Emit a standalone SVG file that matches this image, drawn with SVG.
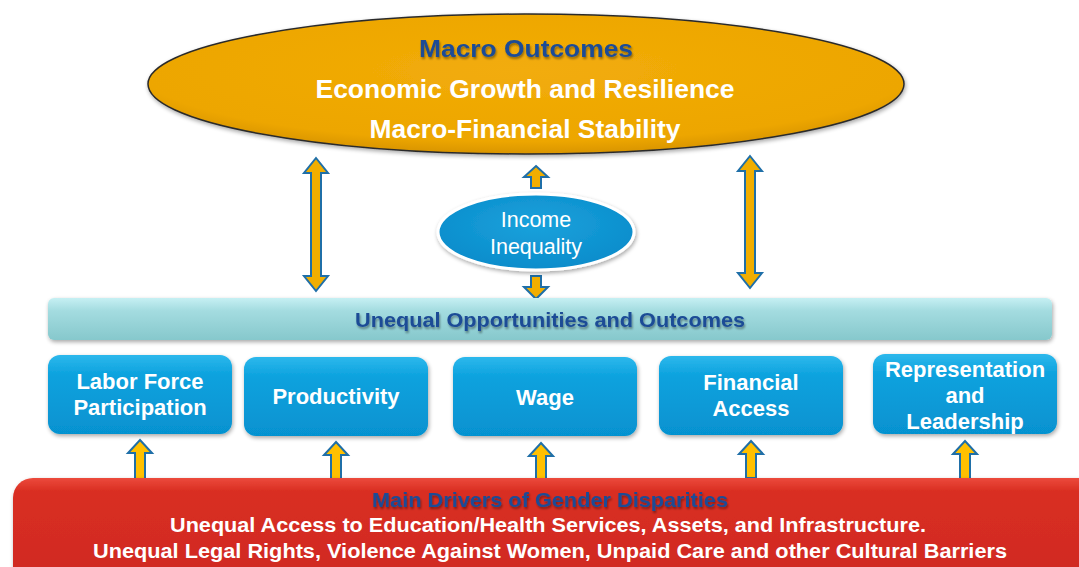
<svg xmlns="http://www.w3.org/2000/svg" width="1079" height="567" viewBox="0 0 1079 567">
<defs>
  <radialGradient id="gOrange" cx="0.5" cy="0.4" r="0.6">
    <stop offset="0" stop-color="#F2AC0A"/>
    <stop offset="0.85" stop-color="#EDA600"/>
    <stop offset="1" stop-color="#D99500"/>
  </radialGradient>
  <linearGradient id="gBlue" x1="0" y1="0" x2="0" y2="1">
    <stop offset="0" stop-color="#2DB8EC"/>
    <stop offset="0.25" stop-color="#0CA2DE"/>
    <stop offset="1" stop-color="#0692D0"/>
  </linearGradient>
  <radialGradient id="gBlueEll" cx="0.5" cy="0.4" r="0.6">
    <stop offset="0" stop-color="#1AA2DC"/>
    <stop offset="1" stop-color="#0A8CCB"/>
  </radialGradient>
  <linearGradient id="gTeal" x1="0" y1="0" x2="0" y2="1">
    <stop offset="0" stop-color="#C6F0F3"/>
    <stop offset="0.3" stop-color="#A4DCE0"/>
    <stop offset="1" stop-color="#86C8CC"/>
  </linearGradient>
  <linearGradient id="gRed" x1="0" y1="0" x2="0" y2="1">
    <stop offset="0" stop-color="#EC4A3C"/>
    <stop offset="0.12" stop-color="#D92E22"/>
    <stop offset="1" stop-color="#CF2A20"/>
  </linearGradient>
  <filter id="shadow" x="-5%" y="-10%" width="110%" height="130%">
    <feGaussianBlur in="SourceAlpha" stdDeviation="2"/>
    <feOffset dx="1" dy="2" result="b"/>
    <feComponentTransfer><feFuncA type="linear" slope="0.35"/></feComponentTransfer>
    <feMerge><feMergeNode/><feMergeNode in="SourceGraphic"/></feMerge>
  </filter>
  <filter id="tshadow" x="-5%" y="-20%" width="110%" height="150%">
    <feGaussianBlur in="SourceAlpha" stdDeviation="1"/>
    <feOffset dx="1" dy="1.5"/>
    <feComponentTransfer><feFuncA type="linear" slope="0.4"/></feComponentTransfer>
    <feMerge><feMergeNode/><feMergeNode in="SourceGraphic"/></feMerge>
  </filter>
</defs>
<style>
  text { font-family: "Liberation Sans", Arial, sans-serif; text-anchor: middle; }
  .title { font-weight: bold; fill: #1B4C96; }
  .wbig { font-weight: bold; fill: #FFFFFF; font-size: 26px; }
  .box { fill: url(#gBlue); }
  .boxt { font-weight: bold; fill: #FFFFFF; font-size: 22px; }
  .arrowTop { fill: #F1AE00; stroke: #1F6FA8; stroke-width: 2; stroke-linejoin: miter; }
  .arrowUp { fill: #FFC000; stroke: #1F6FA8; stroke-width: 2; stroke-linejoin: miter; }
  .redt { font-weight: bold; fill: #FFFFFF; font-size: 20px; }
</style>
<rect x="0" y="0" width="1079" height="567" fill="#FFFFFF"/>

<g id="macro-outcomes">
  <ellipse cx="526" cy="84" rx="378" ry="70" fill="url(#gOrange)" stroke="#2B2B2B" stroke-width="1.5" filter="url(#shadow)"/>
  <text x="526" y="57" class="title" font-size="24" textLength="214" lengthAdjust="spacingAndGlyphs" filter="url(#tshadow)">Macro Outcomes</text>
  <text x="525" y="98" class="wbig" textLength="419" lengthAdjust="spacingAndGlyphs">Economic Growth and Resilience</text>
  <text x="525" y="138" class="wbig" textLength="311" lengthAdjust="spacingAndGlyphs">Macro-Financial Stability</text>
</g>

<g id="connectors">
  <polygon class="arrowTop" points="316,158 328,173 321,173 321,276 328,276 316,291 304,276 311,276 311,173 304,173"/>
  <polygon class="arrowTop" points="750,156 762,171 755,171 755,273 762,273 750,288 738,273 745,273 745,171 738,171"/>
  <polygon class="arrowTop" points="536,166 548,177 541,177 541,188 531,188 531,177 524,177"/>
  <polygon class="arrowTop" points="531,276 541,276 541,287 548,287 536,299 524,287 531,287"/>
  <polygon class="arrowUp" points="140,440 152,453 145,453 145,479 135,479 135,453 128,453"/>
  <polygon class="arrowUp" points="336,442 348,455 341,455 341,480 331,480 331,455 324,455"/>
  <polygon class="arrowUp" points="541,443 553,456 546,456 546,480 536,480 536,456 529,456"/>
  <polygon class="arrowUp" points="751,441 763,454 756,454 756,478 746,478 746,454 739,454"/>
  <polygon class="arrowUp" points="965,441 977,454 970,454 970,479 960,479 960,454 953,454"/>
</g>

<g id="income-inequality">
  <ellipse cx="536" cy="232" rx="98" ry="38" fill="url(#gBlueEll)" stroke="#FFFFFF" stroke-width="3" filter="url(#shadow)"/>
  <text x="536" y="227" font-size="21.5" fill="#FFFFFF">Income</text>
  <text x="536" y="254" font-size="21.5" fill="#FFFFFF">Inequality</text>
</g>

<g id="unequal-opportunities">
  <rect x="48" y="298" width="1004" height="42" rx="6" fill="url(#gTeal)" filter="url(#shadow)"/>
  <text x="550" y="327" class="title" font-size="21" textLength="390" lengthAdjust="spacingAndGlyphs" filter="url(#tshadow)">Unequal Opportunities and Outcomes</text>
</g>

<g id="labor-force">
  <rect x="48" y="355" width="184" height="79" rx="12" class="box" filter="url(#shadow)"/>
  <text x="140" y="389" class="boxt">Labor Force</text>
  <text x="140" y="415" class="boxt">Participation</text>
</g>
<g id="productivity">
  <rect x="244" y="357" width="184" height="79" rx="12" class="box" filter="url(#shadow)"/>
  <text x="336" y="404" class="boxt">Productivity</text>
</g>
<g id="wage">
  <rect x="453" y="357" width="184" height="79" rx="12" class="box" filter="url(#shadow)"/>
  <text x="545" y="405" class="boxt">Wage</text>
</g>
<g id="financial-access">
  <rect x="659" y="356" width="184" height="79" rx="12" class="box" filter="url(#shadow)"/>
  <text x="751" y="390" class="boxt">Financial</text>
  <text x="751" y="416" class="boxt">Access</text>
</g>
<g id="representation">
  <rect x="873" y="354" width="184" height="80" rx="12" class="box" filter="url(#shadow)"/>
  <text x="965" y="377" class="boxt">Representation</text>
  <text x="965" y="403" class="boxt">and</text>
  <text x="965" y="429" class="boxt">Leadership</text>
</g>

<g id="main-drivers">
  <rect x="13" y="478" width="1090" height="110" rx="20" fill="url(#gRed)" filter="url(#shadow)"/>
  <text x="550" y="507" class="title" font-size="21" textLength="356" lengthAdjust="spacingAndGlyphs" filter="url(#tshadow)">Main Drivers of Gender Disparities</text>
  <text x="548" y="532" class="redt" textLength="756" lengthAdjust="spacingAndGlyphs">Unequal Access to Education/Health Services, Assets, and Infrastructure.</text>
  <text x="550" y="558" class="redt" textLength="914" lengthAdjust="spacingAndGlyphs">Unequal Legal Rights, Violence Against Women, Unpaid Care and other Cultural Barriers</text>
</g>
</svg>
